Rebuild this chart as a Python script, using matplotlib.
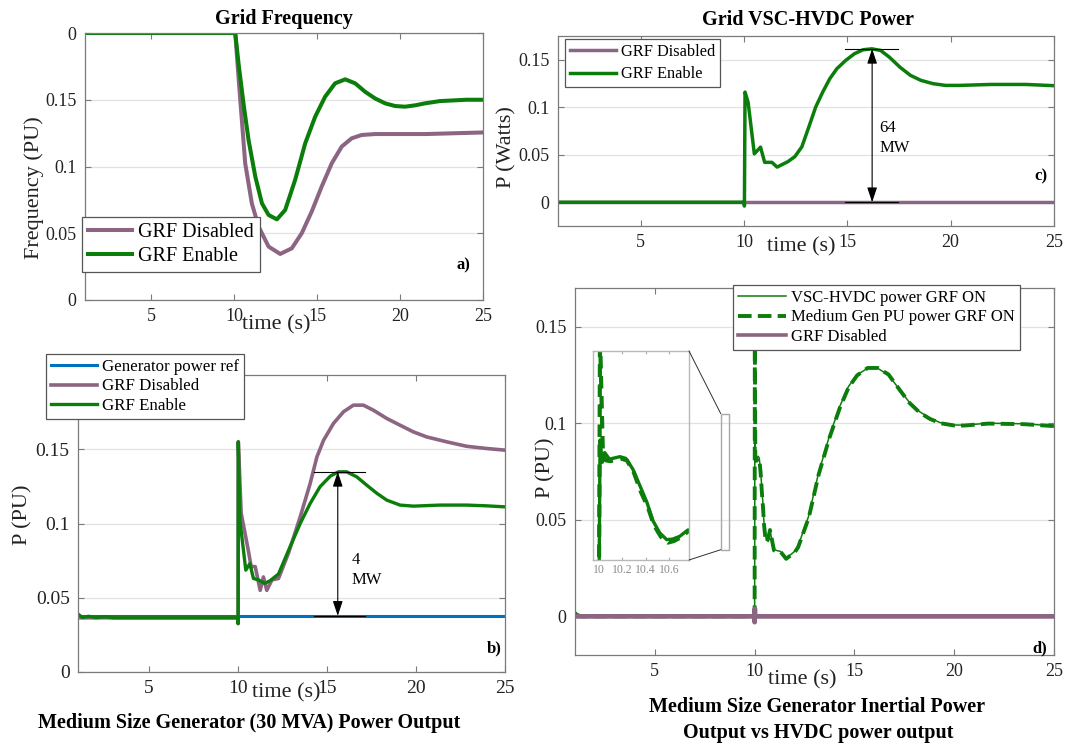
import matplotlib
matplotlib.use('Agg')
import matplotlib.pyplot as plt
from matplotlib.patches import Rectangle, ConnectionPatch

plt.rcParams['font.family'] = ['Liberation Serif', 'DejaVu Serif']

GREEN = '#0b7d0b'
PURPLE = '#8c6583'
BLUE = '#0072bd'
FRAME = '#7a7a7a'

# ---- a) grid frequency ----
a_t_en = [1, 10, 10.06, 10.26, 10.56, 10.86, 11.27, 11.67, 12.07, 12.57, 13.07, 13.67,
          14.28, 14.88, 15.48, 16.08, 16.69, 17.29, 17.89, 18.49, 19.1, 19.7, 20.3, 20.9,
          21.5, 22.4, 24, 25]
a_en = [0.2, 0.2, 0.2, 0.177, 0.147, 0.12, 0.0924, 0.0724, 0.0637, 0.0604, 0.0674, 0.0899,
        0.1174, 0.1373, 0.1523, 0.1623, 0.1653, 0.1623, 0.156, 0.151, 0.1473, 0.1453,
        0.1448, 0.1458, 0.1473, 0.149, 0.15, 0.15]
a_t_dis = [1, 10, 10.06, 10.3, 10.66, 11.06, 11.47, 12.07, 12.77, 13.47, 14.07, 14.67,
           15.27, 15.88, 16.48, 17.08, 17.68, 18.49, 19.5, 21.5, 25]
a_dis = [0.2, 0.2, 0.2, 0.16, 0.1024, 0.0724, 0.0549, 0.04, 0.0345, 0.0387, 0.05, 0.0662,
         0.0849, 0.1024, 0.1149, 0.1211, 0.1236, 0.1243, 0.1243, 0.1243, 0.1255]
a_ticks = [0, 0.05, 0.1, 0.15, 0.2]
a_ticklabels = ['0', '0.05', '0.1', '0.15', '0']

# ---- c) grid VSC-HVDC power ----
c_t_en = [1, 10, 10.02, 10.05, 10.2, 10.5, 10.8, 11.0, 11.35, 11.6, 12.12, 12.46, 12.8,
          13.14, 13.47, 13.81, 14.15, 14.49, 14.92, 15.34, 15.76, 16.19, 16.61, 17.03,
          17.54, 18.05, 18.56, 19.15, 19.75, 20.42, 21.95, 23.64, 25]
c_en = [0, 0, -0.004, 0.116, 0.105, 0.051, 0.058, 0.042, 0.042, 0.037, 0.0427, 0.048,
        0.0584, 0.0794, 0.1003, 0.116, 0.13, 0.1405, 0.1493, 0.1563, 0.1605, 0.1615,
        0.1598, 0.1528, 0.1423, 0.1336, 0.1283, 0.1248, 0.123, 0.123, 0.124, 0.124, 0.1227]
c_t_dis = [1, 25]
c_dis = [0, 0]
c_peak = 0.1615

# ---- b) medium size generator output ----
b_t_ref = [1, 25]
b_ref = [0.0378, 0.0378]
b_t_en = [1, 1.25, 1.6, 2.0, 2.5, 3, 10, 10.0, 10.01, 10.1, 10.3, 10.43, 10.66, 10.86, 11.14,
          11.5, 11.8, 12.27, 12.84, 13.49, 14.05, 14.6, 15.18, 15.64, 16.1, 16.67, 17.23,
          17.8, 18.36, 19.1, 19.85, 21.35, 22.84, 23.97, 25]
b_en = [0.039, 0.0367, 0.0375, 0.0366, 0.0372, 0.0365, 0.0365, 0.0326, 0.155, 0.102, 0.082,
        0.0686, 0.073, 0.063, 0.062, 0.0597, 0.0615, 0.066, 0.0821, 0.1, 0.1135, 0.1247,
        0.1319, 0.1348, 0.1348, 0.1314, 0.1258, 0.1203, 0.1157, 0.1124, 0.1117, 0.1124,
        0.1124, 0.1119, 0.1112]
b_t_dis = [1, 10, 10.0, 10.01, 10.17, 10.57, 10.73, 10.96, 11.24, 11.42, 11.61, 11.9, 12.27,
           12.83, 13.49, 14.05, 14.43, 14.8, 15.36, 15.92, 16.48, 17.04, 17.6, 18.36, 19.1,
           19.85, 20.6, 21.72, 22.84, 23.97, 25]
b_dis = [0.0365, 0.0365, 0.0326, 0.155, 0.107, 0.082, 0.071, 0.071, 0.055, 0.064, 0.055,
         0.062, 0.063, 0.08, 0.1045, 0.127, 0.1449, 0.156, 0.1674, 0.1752, 0.1797, 0.1797,
         0.1763, 0.1707, 0.1662, 0.1617, 0.1583, 0.155, 0.152, 0.1505, 0.1494]
b_peak = 0.1348

# ---- d) inertial power vs HVDC power ----
d_t_vsc = [1, 1.05, 1.3, 10, 10.01, 10.03, 10.05, 10.09, 10.18, 10.23, 10.29, 10.35, 10.41,
           10.46, 10.52, 10.58, 10.63, 10.69, 10.76, 10.96, 11.3, 11.57, 12.0, 12.17, 12.7,
           13.2, 13.74, 14.26, 14.7, 15.13, 15.65, 16.17, 16.7, 17.22, 17.74, 18.26, 18.78,
           19.3, 20.0, 20.5, 21.7, 23.5, 25]
d_vsc = [0.002, 0.001, 0, 0, 0.0915, 0.08, 0.085, 0.0816, 0.0829, 0.082, 0.0765, 0.068,
         0.0594, 0.05, 0.0435, 0.04, 0.0403, 0.0417, 0.045, 0.0345, 0.0336, 0.030, 0.0336,
         0.0362, 0.0517, 0.0741, 0.0931, 0.1086, 0.119, 0.125, 0.1284, 0.1284, 0.125, 0.118,
         0.111, 0.106, 0.1026, 0.1003, 0.0991, 0.099, 0.1, 0.0997, 0.0986]
d_t_gen = [1, 1.05, 1.3, 10, 10.01, 10.035, 10.06, 10.1, 10.19, 10.24, 10.3, 10.36, 10.42,
           10.47, 10.53, 10.59, 10.64, 10.7, 10.77, 10.97, 11.31, 11.58, 12.01, 12.18, 12.71,
           13.21, 13.75, 14.27, 14.71, 15.14, 15.66, 16.18, 16.71, 17.23, 17.75, 18.27,
           18.79, 19.31, 20.01, 20.51, 21.71, 23.51, 25]
d_gen = [0.002, 0.001, 0, 0, 0.145, 0.083, 0.081, 0.0806, 0.0819, 0.081, 0.0745, 0.0646,
         0.0566, 0.0476, 0.0415, 0.0385, 0.0393, 0.0412, 0.0447, 0.0342, 0.0333, 0.0298,
         0.0332, 0.0358, 0.051, 0.0735, 0.0925, 0.108, 0.1186, 0.1248, 0.1286, 0.1286,
         0.1252, 0.1178, 0.1106, 0.1055, 0.1022, 0.1, 0.0988, 0.0988, 0.0998, 0.0995, 0.0985]
d_t_dis = [1, 9.99, 10, 10.01, 10.02, 25]
d_dis = [0, 0, -0.003, 0.004, 0, 0]

x_ticks = [5, 10, 15, 20, 25]
inset_ticks = [10, 10.2, 10.4, 10.6]

W, H = 1067, 745
fig = plt.figure(figsize=(W / 100, H / 100), dpi=100)


def box(l, t, r, b):
    return [l / W, 1 - b / H, (r - l) / W, (b - t) / H]


def style(ax, ylim, yticks, fs=13):
    ax.set_xlim(1, 25)
    ax.set_ylim(*ylim)
    ax.set_xticks(x_ticks)
    ax.set_yticks(yticks)
    ax.tick_params(direction='in', top=True, right=True, length=4, width=0.8,
                   color=FRAME, labelsize=fs, labelcolor='#222222', pad=6)
    for s in ax.spines.values():
        s.set_color(FRAME)
        s.set_linewidth(0.9)
    ax.yaxis.grid(True, color='#e2e2e2', lw=0.9)
    ax.set_axisbelow(True)


def legend(ax, x, y, fs, spacing, hl=2.6):
    leg = ax.legend(loc='upper left', bbox_to_anchor=(x / W, 1 - y / H),
                    bbox_transform=fig.transFigure, borderaxespad=0, fontsize=fs,
                    frameon=True, fancybox=False, framealpha=1, edgecolor='#555555',
                    handlelength=hl, handletextpad=0.3, labelspacing=spacing,
                    borderpad=0.3)
    leg.get_frame().set_linewidth(0.9)
    return leg


def ftext(x, y, s, **kw):
    fig.text(x / W, 1 - y / H, s, ha='center', va='center', **kw)


def measure(ax, t, lo, hi, x0, x1):
    ax.plot([x0, x1], [hi, hi], color='k', lw=0.8)
    ax.plot([x0, x1], [lo, lo], color='k', lw=0.8)
    ax.annotate('', xy=(t, hi), xytext=(t, lo),
                arrowprops=dict(arrowstyle='<|-|>,head_length=0.9,head_width=0.3',
                                color='k', lw=0.8, shrinkA=0, shrinkB=0))


# a)
ax_a = fig.add_axes(box(85, 33, 483, 300))
ax_a.plot(a_t_dis, a_dis, color=PURPLE, lw=2.9, label='GRF Disabled')
ax_a.plot(a_t_en, a_en, color=GREEN, lw=2.9, label='GRF Enable')
style(ax_a, (0, 0.2), a_ticks)
ax_a.set_yticklabels(a_ticklabels)
legend(ax_a, 82, 217, 14.5, 0.25, hl=2.2)
ax_a.text(23.4, 0.026, 'a)', fontsize=12, fontweight='bold', va='center')

# c)
ax_c = fig.add_axes(box(558, 36, 1054, 226))
ax_c.plot(c_t_dis, c_dis, color=PURPLE, lw=2.5, label='GRF Disabled')
ax_c.plot(c_t_en, c_en, color=GREEN, lw=2.5, label='GRF Enable')
style(ax_c, (-0.025, 0.175), [0, 0.05, 0.1, 0.15])
ax_c.set_yticklabels(['0', '0.05', '0.1', '0.15'])
legend(ax_c, 565, 39, 11.8, 0.4, hl=2.8)
measure(ax_c, 16.2, 0, c_peak, 14.9, 17.45)
ax_c.text(16.55, 0.078, '64', fontsize=12, va='center')
ax_c.text(16.55, 0.057, 'MW', fontsize=12, va='center')
ax_c.text(24.05, 0.027, 'c)', fontsize=12, fontweight='bold', va='center')

# b)
ax_b = fig.add_axes(box(78, 375, 505, 672))
ax_b.plot(b_t_ref, b_ref, color=BLUE, lw=2.2, label='Generator power ref')
ax_b.plot(b_t_dis, b_dis, color=PURPLE, lw=2.6, label='GRF Disabled')
ax_b.plot(b_t_en, b_en, color=GREEN, lw=2.4, label='GRF Enable')
style(ax_b, (0, 0.2), [0, 0.05, 0.1, 0.15], fs=14)
ax_b.set_yticklabels(['0', '0.05', '0.1', '0.15'])
legend(ax_b, 46, 354, 12.2, 0.2, hl=2.7)
measure(ax_b, 15.6, b_ref[0], b_peak, 14.24, 17.14)
ax_b.text(16.4, 0.0755, '4', fontsize=12, va='center')
ax_b.text(16.4, 0.062, 'MW', fontsize=12, va='center')
ax_b.text(23.95, 0.016, 'b)', fontsize=12, fontweight='bold', va='center')

# d)
ax_d = fig.add_axes(box(575, 288, 1054, 655))
ax_d.plot(d_t_vsc, d_vsc, color=GREEN, lw=1.1, label='VSC-HVDC power GRF ON')
ax_d.plot(d_t_gen, d_gen, color=GREEN, lw=2.8, ls=(0, (3.5, 1.6)),
          label='Medium Gen PU power GRF ON')
ax_d.plot(d_t_dis, d_dis, color=PURPLE, lw=3.4, label='GRF Disabled')
style(ax_d, (-0.02, 0.17), [0, 0.05, 0.1, 0.15])
ax_d.set_yticklabels(['0', '0.05', '0.1', '0.15'])
leg_d = legend(ax_d, 733, 285, 12, 0.2, hl=2.9)
leg_d.get_lines()[2].set_linewidth(2.6)
ax_d.text(23.9, -0.0165, 'd)', fontsize=12, fontweight='bold', va='center')

# zoom window on the first half second after the event
rect = Rectangle((8.3, 0.0345), 0.4, 0.0705, fill=False, edgecolor='#a8a8a8', lw=1)
ax_d.add_patch(rect)
ins = fig.add_axes(box(593, 351, 689, 560))
ins.set_facecolor('none')
ins.plot(d_t_vsc, d_vsc, color=GREEN, lw=2.4)
ins.plot(d_t_gen, d_gen, color=GREEN, lw=3, ls=(0, (3, 1.8)))
ins.set_xlim(9.95, 10.77)
ins.set_ylim(0.0295, 0.1375)
ins.set_xticks(inset_ticks)
ins.set_xticklabels(['10', '10.2', '10.4', '10.6'])
ins.set_yticks([])
ins.tick_params(direction='in', top=True, length=2.5, color='#b0b0b0',
                labelsize=8.5, labelcolor='#8a8a8a', pad=3)
for s in ins.spines.values():
    s.set_color('#b8b8b8')
    s.set_linewidth(1)
for fy, ry in [(1, 0.105), (0, 0.0345)]:
    con = ConnectionPatch(xyA=(1, fy), coordsA=ins.transAxes,
                          xyB=(8.3, ry), coordsB=ax_d.transData,
                          color='#303030', lw=0.7)
    fig.add_artist(con)

# titles and axis labels
ftext(284, 19, 'Grid Frequency', fontsize=14.5, fontweight='bold')
ftext(808, 20, 'Grid VSC-HVDC Power', fontsize=14.5, fontweight='bold')
ftext(249, 723, 'Medium Size Generator (30 MVA) Power Output', fontsize=14.5,
      fontweight='bold')
ftext(817, 707, 'Medium Size Generator Inertial Power', fontsize=14.5, fontweight='bold')
ftext(818, 733, 'Output vs HVDC power output', fontsize=14.5, fontweight='bold')

ftext(34, 188, 'Frequency (PU)', fontsize=16, rotation=90, color='#222222')
ftext(507, 147, 'P (Watts)', fontsize=16, rotation=90, color='#222222')
ftext(23, 515, 'P (PU)', fontsize=16, rotation=90, color='#222222')
ftext(546, 468, 'P (PU)', fontsize=16, rotation=90, color='#222222')

ftext(276, 325, 'time (s)', fontsize=16, color='#222222')
ftext(801, 247, 'time (s)', fontsize=16, color='#222222')
ftext(286, 693, 'time (s)', fontsize=16, color='#222222')
ftext(802, 680, 'time (s)', fontsize=16, color='#222222')

fig.savefig('out.png', dpi=100, facecolor='white')
